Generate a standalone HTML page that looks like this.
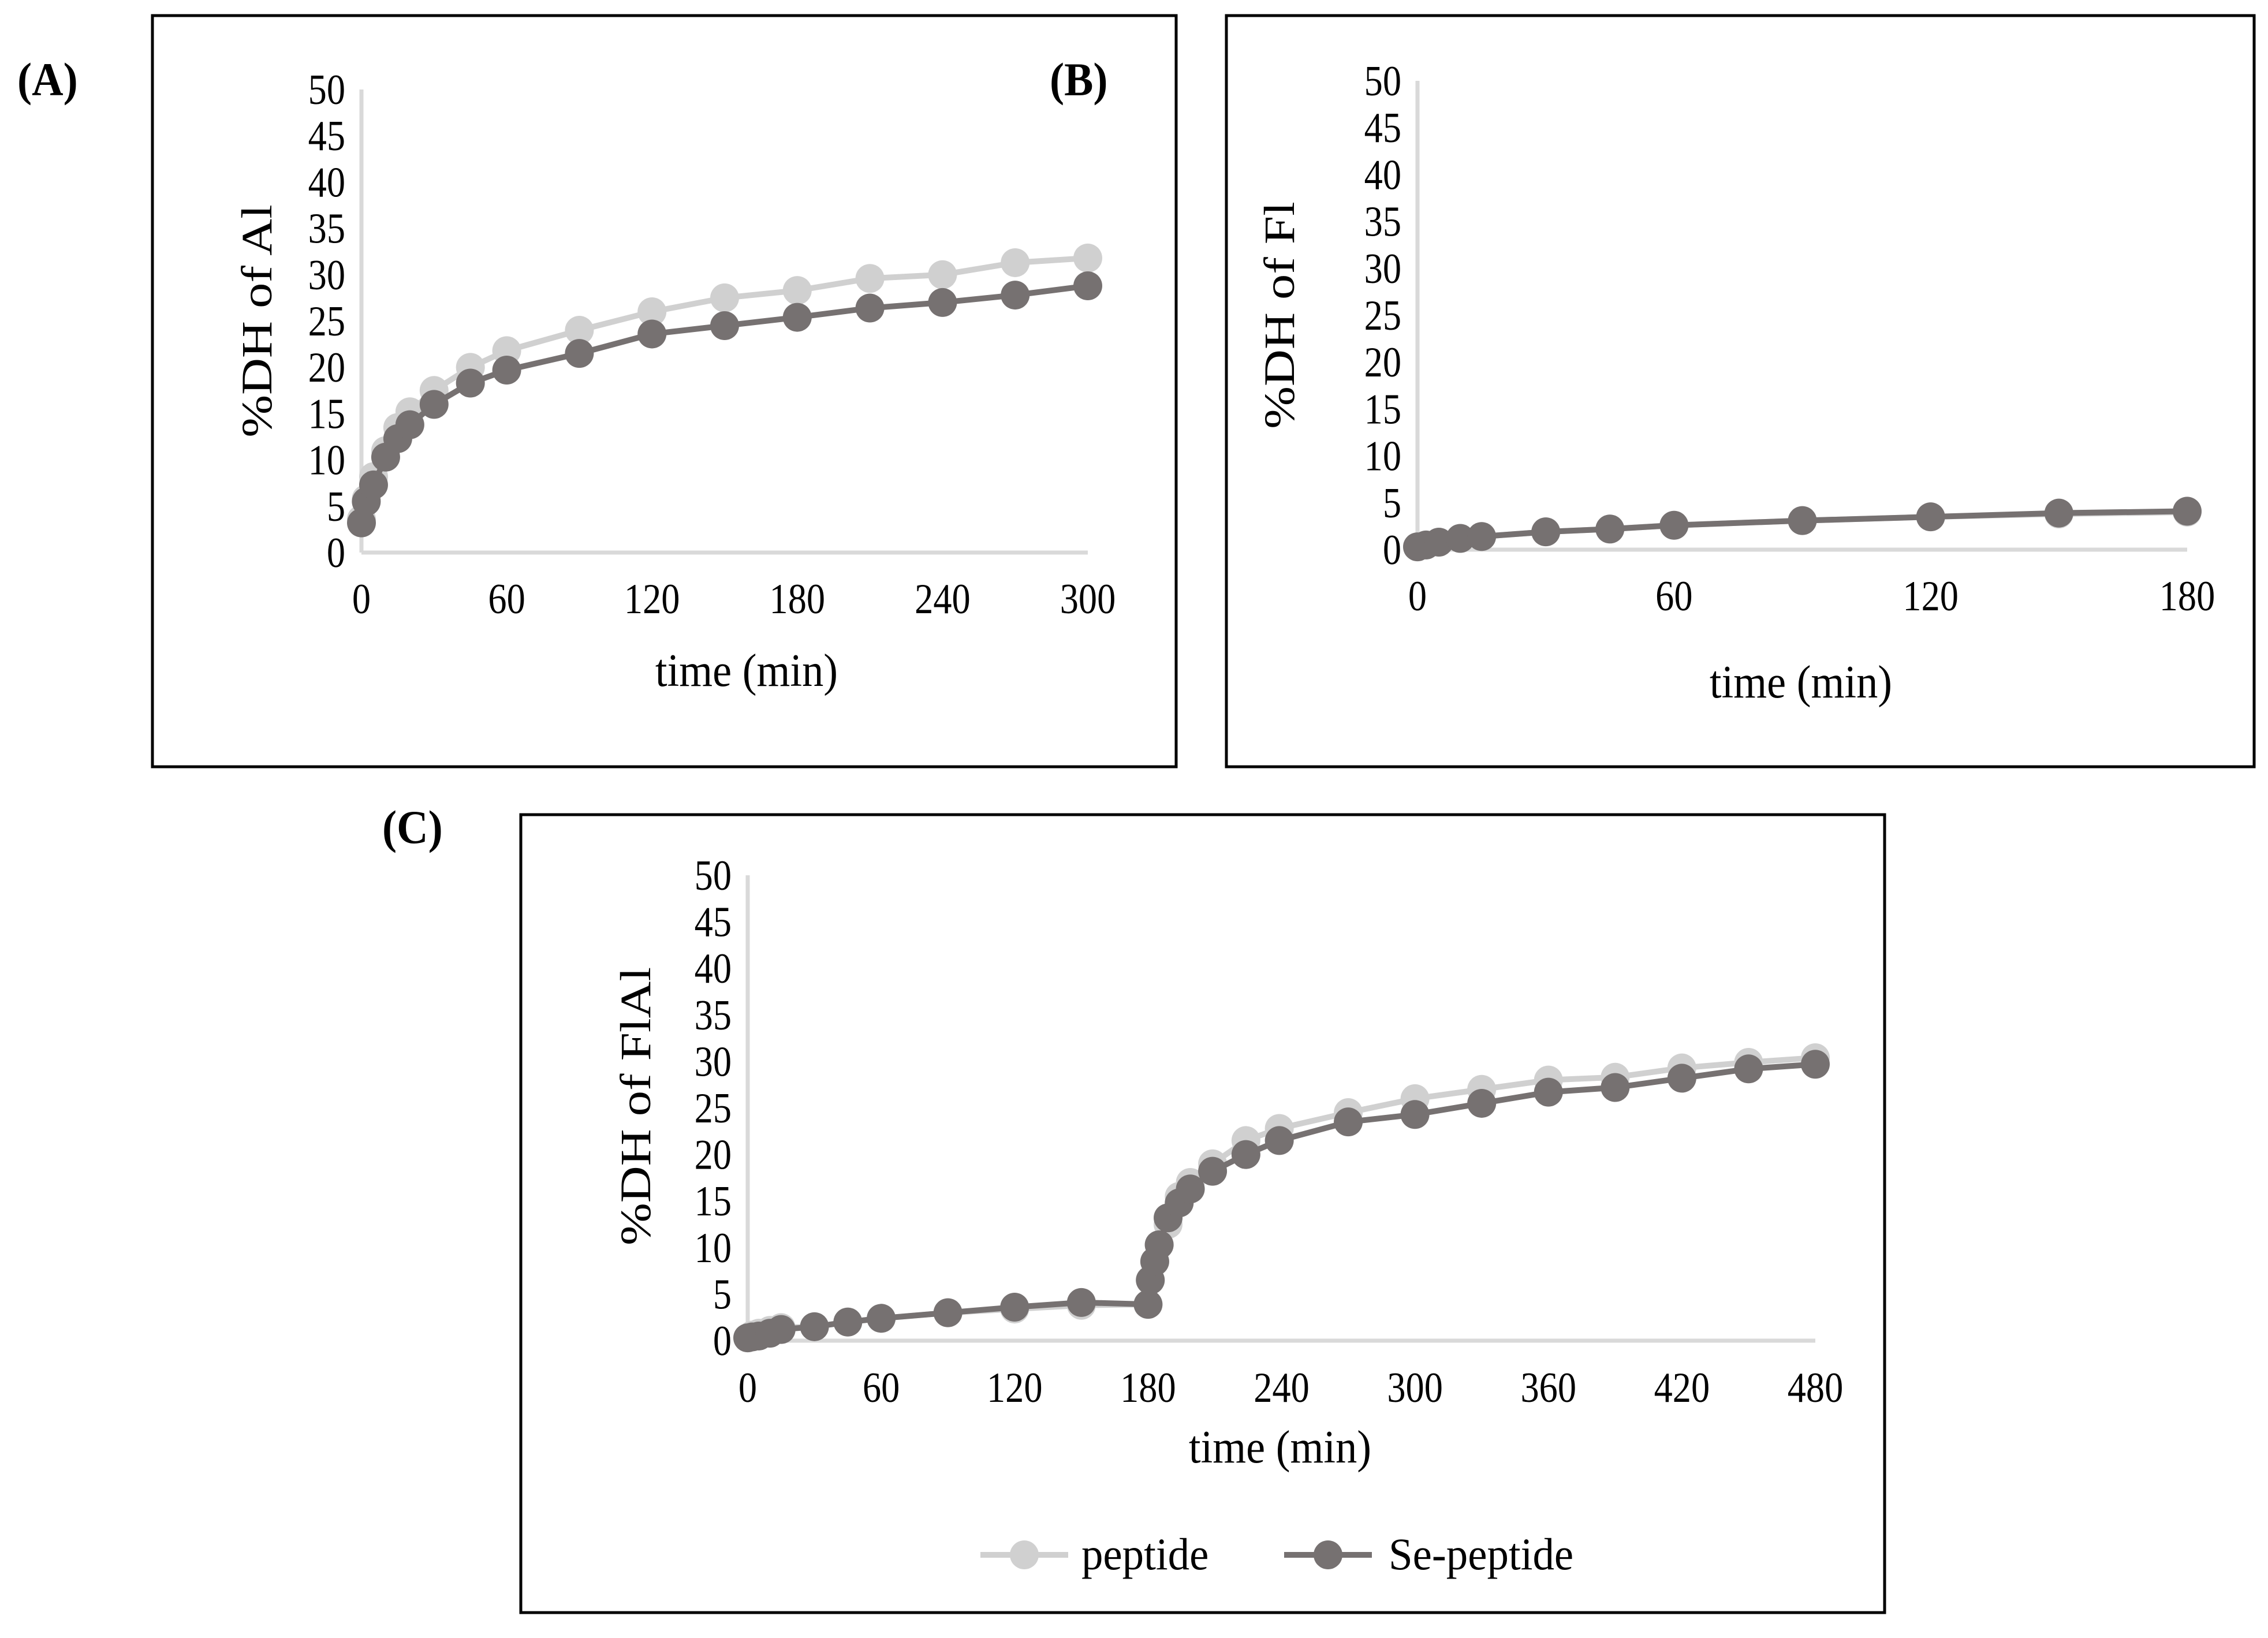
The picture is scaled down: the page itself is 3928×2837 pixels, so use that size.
<!DOCTYPE html>
<html><head><meta charset="utf-8"><style>
html,body{margin:0;padding:0;background:#fff;}
svg{display:block;font-family:"Liberation Serif",serif;}
</style></head><body>
<svg id="fig" width="3928" height="2837" viewBox="0 0 3928 2837" xmlns="http://www.w3.org/2000/svg">
<rect x="264" y="27" width="1773" height="1301" fill="none" stroke="#000" stroke-width="5"/>
<rect x="2124" y="27" width="1780" height="1301" fill="none" stroke="#000" stroke-width="5"/>
<rect x="902" y="1411" width="2362" height="1382" fill="none" stroke="#000" stroke-width="5"/>
<text transform="translate(30,165) scale(0.92,1)" font-size="82" font-weight="bold">(A)</text>
<text transform="translate(1818,165) scale(0.92,1)" font-size="82" font-weight="bold">(B)</text>
<text transform="translate(662,1460) scale(0.92,1)" font-size="82" font-weight="bold">(C)</text>
</svg>
<script>
const timesA=[0,2,5,10,15,20,30,45,60,90,120,150,180,210,240,270,300];
const peptideA=[3.6,5.8,8.2,11,13.5,15.2,17.5,20,21.8,24,26,27.5,28.3,29.6,30,31.3,31.8];
const sePeptideA=[3.2,5.5,7.3,10.3,12.3,13.8,16,18.3,19.7,21.5,23.6,24.5,25.4,26.4,27,27.8,28.8];
const timesB=[0,2,5,10,15,30,45,60,90,120,150,180];
const peptideB=[0.3,0.5,0.8,1.2,1.4,1.9,2.2,2.6,3.1,3.5,3.8,4.0];
const sePeptideB=[0.3,0.5,0.8,1.2,1.4,1.9,2.2,2.6,3.1,3.5,3.9,4.1];
const timesC=[0,2,5,10,15,30,45,60,90,120,150,180,181,183,185,189,194,199,209,224,239,270,300,330,360,390,420,450,480];
const peptideC=[0.3,0.6,0.8,1.1,1.4,1.5,2,2.4,3,3.4,3.8,3.9,6.5,8.5,10.3,12.5,15.5,17,19,21.5,22.8,24.5,26,27,28,28.3,29.3,29.9,30.4];
const sePeptideC=[0.3,0.4,0.5,0.8,1.2,1.5,2,2.4,3,3.6,4.1,3.9,6.5,8.5,10.3,13.2,14.8,16.3,18.2,20,21.5,23.5,24.3,25.5,26.7,27.2,28.2,29.2,29.7];
const yTicks=[0,5,10,15,20,25,30,35,40,45,50];
const xTicksA=[0,60,120,180,240,300];
const xTicksB=[0,60,120,180];
const xTicksC=[0,60,120,180,240,300,360,420,480];

const NS="http://www.w3.org/2000/svg";
const svg=document.getElementById('fig');
function mk(tag,attrs,parent){const e=document.createElementNS(NS,tag);for(const k in attrs)e.setAttribute(k,attrs[k]);(parent||svg).appendChild(e);return e;}
const SX=0.87;

function chart(id,cfg,times,s1,s2,xt,ytitle){
  const g=mk('g',{});
  
  
  const X=v=>cfg.x0+v/cfg.xmax*(cfg.x1-cfg.x0);
  const Y=v=>cfg.y0-v/50*(cfg.y0-cfg.y50);
  const ya=mk('line',{x1:cfg.x0,y1:cfg.y50,x2:cfg.x0,y2:cfg.y0,stroke:'#d9d9d9','stroke-width':7},g);
  
  
  const xa=mk('line',{x1:cfg.x0,y1:cfg.y0,x2:cfg.x1,y2:cfg.y0,stroke:'#d9d9d9','stroke-width':7},g);
  
  
  yTicks.forEach(v=>{
    const t=mk('text',{transform:`translate(${cfg.x0-28},${Y(v)+25}) scale(${SX},1)`,'font-size':74,'text-anchor':'end'},g);
    t.textContent=v;
    
    
  });
  xt.forEach(v=>{
    const t=mk('text',{transform:`translate(${X(v)},${cfg.xly}) scale(${SX},1)`,'font-size':74,'text-anchor':'middle'},g);
    t.textContent=v;
    
    
  });
  const xtitle=mk('text',{transform:`translate(${cfg.xtx},${cfg.xty}) scale(0.93,1)`,'font-size':80,'text-anchor':'middle'},g);
  xtitle.textContent='time (min)';
  
  
  const yt=mk('text',{x:0,y:0,'font-size':82,'text-anchor':'middle',transform:`translate(${cfg.ytx},${cfg.yty}) rotate(-90) scale(1.08,0.92)`},g);
  yt.textContent=ytitle;
  
  
  [[s1,'#d0d0d0','peptide'],[s2,'#767171','se-peptide']].forEach(([s,c,n])=>{
    const pts=times.map((t,i)=>X(t)+','+Y(s[i])).join(' ');
    const pl=mk('polyline',{points:pts,fill:'none',stroke:c,'stroke-width':10,'stroke-linejoin':'round'},g);
    
    
    times.forEach((t,i)=>{
      const m=mk('circle',{cx:X(t),cy:Y(s[i]),r:25,fill:c},g);
      
      
    });
  });
}
chart('panel-a',{x0:626,x1:1884,xmax:300,y0:957,y50:155,xly:1062,xtx:1293,xty:1188,ytx:470,yty:556},timesA,peptideA,sePeptideA,xTicksA,'%DH of Al');
chart('panel-b',{x0:2455,x1:3788,xmax:180,y0:952,y50:140,xly:1057,xtx:3119,xty:1208,ytx:2241,yty:546},timesB,peptideB,sePeptideB,xTicksB,'%DH of Fl');
chart('panel-c',{x0:1295,x1:3144,xmax:480,y0:2322,y50:1516,xly:2428,xtx:2217,xty:2533,ytx:1126,yty:1916},timesC,peptideC,sePeptideC,xTicksC,'%DH of FlAl');

const lg=mk('g',{});


[[1698,1873,'#d0d0d0','peptide'],[2224,2405,'#767171','Se-peptide']].forEach(([lx,tx,c,n])=>{
  const l=mk('line',{x1:lx,y1:2693,x2:lx+152,y2:2693,stroke:c,'stroke-width':10},lg);
  
  
  const m=mk('circle',{cx:lx+76,cy:2693,r:25,fill:c},lg);
  
  
  const t=mk('text',{transform:`translate(${tx},2718) scale(0.96,1)`,'font-size':78},lg);
  t.textContent=n;
  
  
});
</script>
</body></html>
